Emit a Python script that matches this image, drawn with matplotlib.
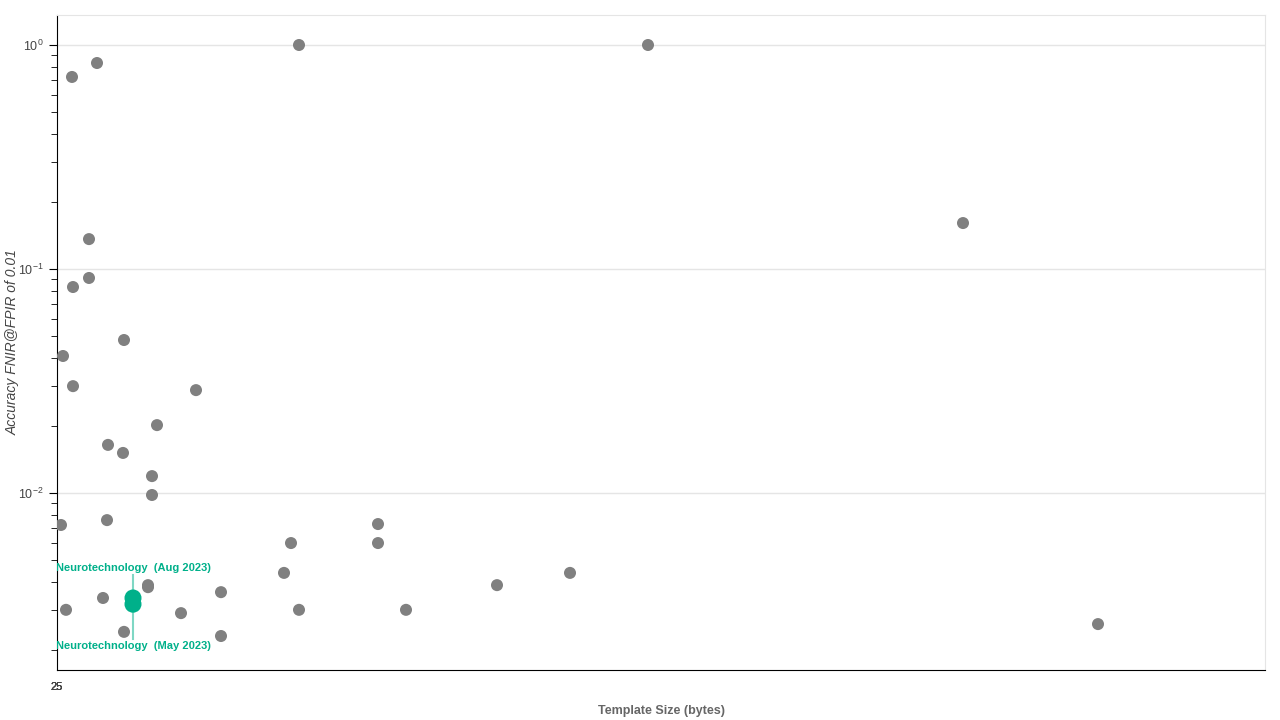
import numpy as np
import matplotlib.pyplot as plt

plt.rcParams['font.family'] = ['Liberation Sans', 'DejaVu Sans']

# template size (bytes) and FNIR @ FPIR=0.01 for the other vendors
sizes = [60, 160, 968, 2364, 128, 128, 64, 3624, 24, 268, 64, 556, 400, 204,
         264, 380, 380, 16, 200, 1284, 936, 1284, 908, 2052, 364, 364, 1760,
         656, 184, 36, 968, 1396, 496, 268, 656, 4164]
fnir = [0.720, 0.831, 1.0, 1.0, 0.136, 0.0912, 0.0831, 0.1604, 0.0409, 0.0482,
        0.0300, 0.0288, 0.0201, 0.0164, 0.0151, 0.0119, 0.0098, 0.0072, 0.00757,
        0.00727, 0.00598, 0.00598, 0.00440, 0.00440, 0.00388, 0.00380, 0.00388,
        0.00361, 0.00340, 0.00301, 0.00301, 0.00301, 0.00291, 0.00240, 0.00230,
        0.00260]

# highlighted vendor
hl_name = "Neurotechnology"
hl_dates = ["Aug 2023", "May 2023"]
hl_size = [304, 304]
hl_fnir = [0.00340, 0.00319]

xtick_pos = [0, 0, 0, 0]
xtick_labels = ["0", "8", "16", "25"]

gray = "#808080"
teal = "#00b08a"

fig = plt.figure(figsize=(12.8, 7.2), dpi=100)
ax = fig.add_axes([57 / 1280, 1 - 670 / 720, 1208 / 1280, 655 / 720])

ax.scatter(sizes, fnir, s=75, color=gray, edgecolors="none", zorder=3)

# connector between the two highlighted releases
ax.plot([hl_size[0], hl_size[0]], [0.00432, 0.00222], color=teal, alpha=0.5,
        lw=1.5, zorder=2)
ax.scatter(hl_size, hl_fnir, s=150, color=teal, edgecolors="none", zorder=4)
ax.text(hl_size[0], 0.00463, f"{hl_name}  ({hl_dates[0]})", color=teal,
        fontsize=8, fontweight="bold", ha="center", va="center", clip_on=True)
ax.text(hl_size[1], 0.00207, f"{hl_name}  ({hl_dates[1]})", color=teal,
        fontsize=8, fontweight="bold", ha="center", va="center", clip_on=True)

ax.set_yscale("log")
ax.set_ylim(10 ** -2.79, 10 ** (30 / 224))
ax.set_xlim(0, 4832)
ax.set_xticks(xtick_pos, xtick_labels, fontsize=8, color="#444444")
ax.tick_params(axis="x", length=0, pad=9)
ax.tick_params(axis="y", which="major", length=6, labelsize=9, labelcolor="#444444")
ax.tick_params(axis="y", which="minor", length=4)

ax.grid(axis="y", which="major", color="#e5e5e5", lw=1)
ax.set_axisbelow(True)
for side in ["top", "right"]:
    ax.spines[side].set_color("#e5e5e5")
for side in ["left", "bottom"]:
    ax.spines[side].set_color("black")

ax.set_xlabel("Template Size (bytes)", fontsize=9, fontweight="bold",
              color="#666666", labelpad=9)
ax.set_ylabel("Accuracy FNIR@FPIR of 0.01", fontsize=10, style="italic",
              color="#444444")
ax.yaxis.set_label_coords(-0.031, 0.5)

fig.savefig("out.png", dpi=100)
